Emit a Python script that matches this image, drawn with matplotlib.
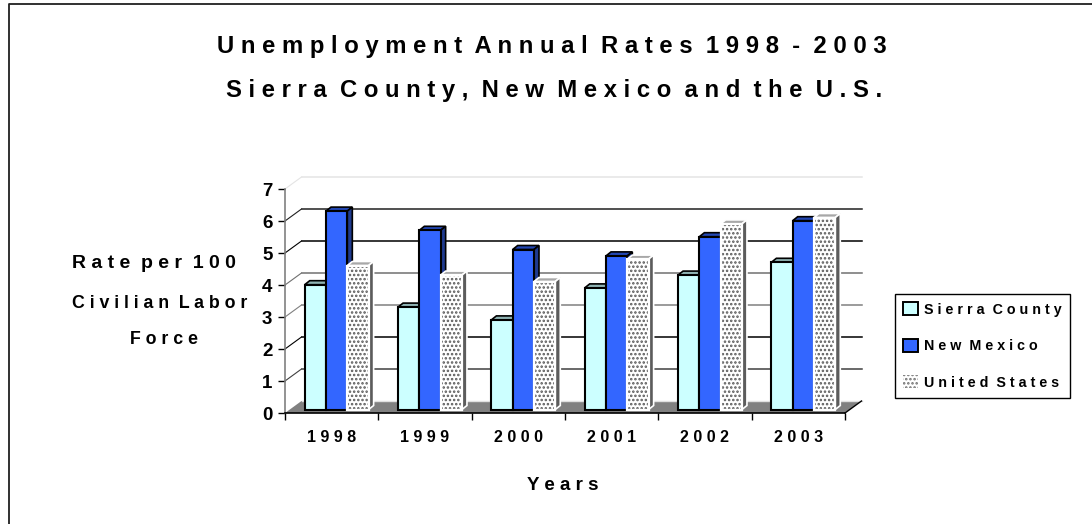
import matplotlib
matplotlib.use("Agg")
import matplotlib.pyplot as plt
from matplotlib.patches import Polygon, Patch
import numpy as np

years = ["1998", "1999", "2000", "2001", "2002", "2003"]
sierra = [3.9, 3.2, 2.8, 3.8, 4.2, 4.6]
new_mexico = [6.2, 5.6, 5.0, 4.8, 5.4, 5.9]
us = [4.5, 4.2, 4.0, 4.7, 5.8, 6.0]
y_ticks = [0, 1, 2, 3, 4, 5, 6, 7]


def spaced(s):
    return "  ".join(" ".join(w) for w in s.split())


plt.rcParams["font.family"] = ["Liberation Sans", "DejaVu Sans"]
plt.rcParams["font.weight"] = "bold"
plt.rcParams["hatch.linewidth"] = 1.2

W, H = 1092, 524
fig = plt.figure(figsize=(W / 100, H / 100), dpi=100)
fig.patch.set_facecolor("white")

# frame: only top and left sides show
fig.add_artist(plt.Line2D([8.5 / W, 8.5 / W, 1], [0, 1 - 4 / H, 1 - 4 / H], color="#202020", lw=1.3))

# axes rectangle = front edge of the 3d box, in pixels
left, right, y0, y7 = 285, 845, 413, 189
ax = fig.add_axes([left / W, 1 - y0 / H, (right - left) / W, (y0 - y7) / H])
ax.set_xlim(0, 6)
ax.set_ylim(0, 7)
ax.patch.set_alpha(0)
for s in ["top", "right"]:
    ax.spines[s].set_visible(False)
ax.spines["left"].set_color("#808080")
ax.spines["left"].set_linewidth(1.2)
ax.spines["bottom"].set_color("black")
ax.spines["bottom"].set_linewidth(1.2)

ax.set_xticks(range(7))
ax.set_xticklabels([])
ax.set_yticks(y_ticks)
ax.set_yticklabels([str(v) for v in y_ticks], fontsize=13.5)
ax.tick_params(axis="y", length=5, width=1, color="black", pad=4)
ax.tick_params(axis="x", length=5, width=1, color="black")
for i, yr in enumerate(years):
    ax.text(i + 0.5, -0.77, spaced(yr), ha="center", va="center", fontsize=11.5)

# depth of the box in data units
box_dx = 16.5 / 93.33
box_dy = 12 / 32
bar_dx = 5 / 93.33
bar_dy = 3.5 / 32
side_dx = 5 / 93.33
side_dy = 4 / 32

# floor and back wall
ax.add_patch(Polygon([(0, 0), (6, 0), (6 + box_dx, box_dy), (box_dx, box_dy)],
                     facecolor="#808080", edgecolor="none", zorder=1, clip_on=False))
ax.plot([box_dx, 6 + box_dx], [box_dy, box_dy], color="#e0e0e0", lw=1, zorder=1, clip_on=False)
ax.plot([6, 6 + box_dx], [0, box_dy], color="black", lw=1, zorder=1.5, clip_on=False)
grid_colors = {1: "#404040", 2: "black", 3: "#808080", 4: "#707070", 5: "black", 6: "#202020", 7: "#e4e4e4"}
for v in y_ticks[1:]:
    ax.plot([box_dx, 6 + box_dx], [v + box_dy, v + box_dy], color=grid_colors[v],
            lw=1.1, zorder=1, clip_on=False)
    ax.plot([0, box_dx], [v, v + box_dy], color=grid_colors[v], lw=0.8, zorder=1, clip_on=False)


def draw_series(vals, offset, face, top, side, edge, hatch=None):
    width = 21.3 / 93.33
    for i, v in enumerate(vals):
        x0 = i + 0.5 + offset - width / 2 + bar_dx
        x1 = x0 + width
        b = bar_dy
        t = v + bar_dy
        z = 3 + offset
        ax.add_patch(Polygon([(x0, t), (x1, t), (x1 + side_dx, t + side_dy), (x0 + side_dx, t + side_dy)],
                             facecolor=top, edgecolor=edge, lw=1.2, zorder=z, clip_on=False))
        ax.add_patch(Polygon([(x1, b), (x1 + side_dx, b + side_dy), (x1 + side_dx, t + side_dy), (x1, t)],
                             facecolor=side, edgecolor=edge, lw=1.2, zorder=z, clip_on=False))
        if hatch:
            ax.bar(x0 + width / 2, v, width, bottom=b, color="white", edgecolor="#585858",
                   hatch=hatch, lw=0, zorder=z)
            ax.bar(x0 + width / 2, v, width, bottom=b, color="none", edgecolor=edge, lw=1.6, zorder=z + 0.01)
        else:
            ax.bar(x0 + width / 2, v, width, bottom=b, color=face, edgecolor=edge, lw=1.5, zorder=z)


bw = 21.3 / 93.33
draw_series(sierra, -bw, "#ccffff", "#8fb3b3", "#8fb3b3", "black")
draw_series(new_mexico, 0, "#3366ff", "#2347b3", "#1f3a8f", "black")
draw_series(us, bw, "white", "#a8a8a8", "#5c5c5c", "white", hatch="....")

# titles
fig.text(552 / W, 1 - 47 / H, spaced("Unemployment Annual Rates 1998 - 2003"), ha="center", va="center", fontsize=17.2)
fig.text(554 / W, 1 - 90 / H, spaced("Sierra County, New Mexico and the U.S."), ha="center", va="center", fontsize=17.2)
fig.text(154 / W, 1 - 264 / H, spaced("Rate per 100"), ha="center", va="center", fontsize=14)
fig.text(159.5 / W, 1 - 303 / H, spaced("Civilian Labor"), ha="center", va="center", fontsize=12.8)
fig.text(164 / W, 1 - 339 / H, spaced("Force"), ha="center", va="center", fontsize=12.8)
fig.text(563 / W, 1 - 486 / H, spaced("Years"), ha="center", va="center", fontsize=13.5)

# legend
handles = [Patch(facecolor="#ccffff", edgecolor="black", lw=1.4),
           Patch(facecolor="#3366ff", edgecolor="black", lw=1.4),
           Patch(facecolor="white", edgecolor="#707070", hatch="....", lw=0)]
leg = fig.legend(handles, [spaced("Sierra County"), spaced("New Mexico"), spaced("United States")],
                 loc="center", bbox_to_anchor=(982.5 / W, 1 - 346 / H), fontsize=10.3,
                 frameon=True, fancybox=False, edgecolor="black", framealpha=1,
                 handlelength=1.0, handleheight=1.0, handletextpad=0.45, labelspacing=1.55, borderpad=0.6)
leg.get_frame().set_linewidth(1)

fig.savefig("out.png", dpi=100)
